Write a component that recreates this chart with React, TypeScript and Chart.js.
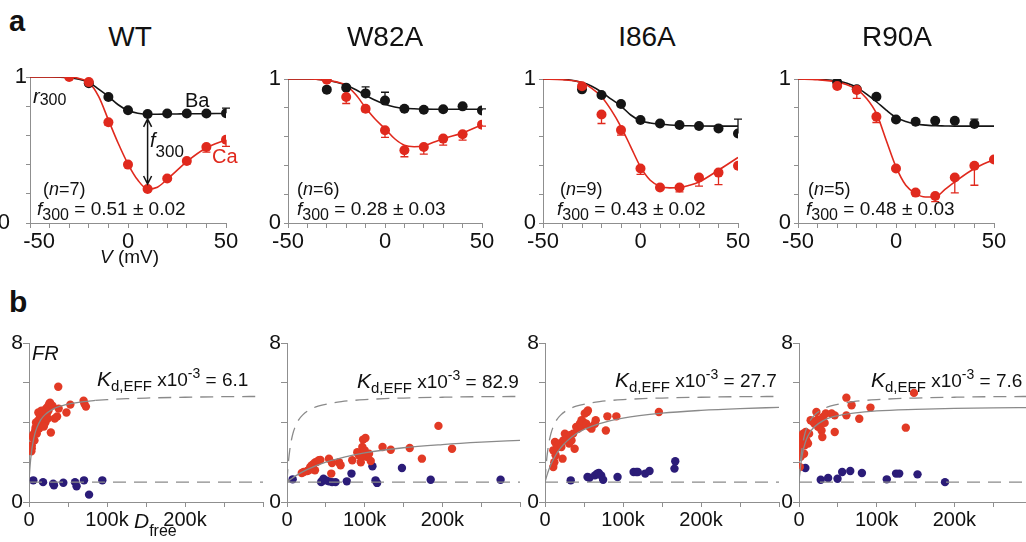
import React, { useEffect, useRef } from "react";
import { Chart, registerables } from "chart.js";

Chart.register(...registerables);

const FONT = '"Liberation Sans", Arial, Helvetica, sans-serif';
const RED = "#e0291d";
const RED_B = "#e23a25";
const BLACK = "#151515";
const NAVY = "#2b1c78";
const AXIS = "#8f8f8f";
const CURVE = "#8a8a8a";
const TEXT = "#111111";

// ---------------- panel a : r300 vs V ----------------
const voltages = [-30, -20, -10, 0, 10, 20, 30, 40, 50];
const fitVoltages = [-50, -40, -30, -25, -20, -15, -10, -5, 0, 5, 10, 15, 20, 25, 30, 40, 50];
const vTickLabels = [-50, 0, 50];
const rTickLabels = [0, 1];

const wtBa = [null, 0.957, 0.863, 0.772, 0.747, 0.75, 0.75, 0.75, 0.752];
const wtBaErr = [0, 0.012, 0.012, 0.01, 0.01, 0.01, 0.01, 0.012, 0.035];
const wtCa = [1.0, 0.965, 0.69, 0.4, 0.233, 0.305, 0.425, 0.52, 0.57];
const wtCaErr = [0, 0.02, 0.02, 0.012, 0.01, 0.012, 0.02, 0.035, 0.045];
const wtBaFit = [1.0, 1.0, 0.995, 0.985, 0.963, 0.917, 0.867, 0.81, 0.77, 0.752, 0.745, 0.745, 0.746, 0.747, 0.748, 0.749, 0.75];
const wtCaFit = [1.0, 1.0, 1.0, 0.99, 0.963, 0.867, 0.706, 0.546, 0.404, 0.294, 0.232, 0.245, 0.3, 0.36, 0.42, 0.515, 0.57];
const wtArrow = [10, 0.747, 0.233];

const w82aBa = [0.926, 0.94, 0.9, 0.85, 0.794, 0.787, 0.79, 0.81, 0.782];
const w82aBaErr = [0, 0.01, 0.045, 0.058, 0.01, 0.01, 0.01, 0.01, 0.01];
const w82aCa = [0.995, 0.875, 0.794, 0.644, 0.505, 0.528, 0.586, 0.616, 0.683];
const w82aCaErr = [0, 0.045, 0.02, 0.05, 0.045, 0.05, 0.045, 0.04, 0.01];
const w82aBaFit = [1.0, 1.0, 0.99, 0.978, 0.956, 0.925, 0.887, 0.852, 0.824, 0.806, 0.797, 0.793, 0.791, 0.79, 0.79, 0.79, 0.79];
const w82aCaFit = [1.0, 1.0, 0.99, 0.98, 0.956, 0.89, 0.8, 0.72, 0.655, 0.585, 0.54, 0.53, 0.535, 0.56, 0.586, 0.625, 0.683];

const i86aBa = [0.928, 0.889, 0.826, 0.715, 0.691, 0.68, 0.673, 0.657, 0.622];
const i86aBaErr = [0, 0, 0.01, 0, 0, 0, 0, 0, 0.1];
const i86aCa = [0.95, 0.754, 0.645, 0.378, 0.246, 0.246, 0.316, 0.35, 0.397];
const i86aCaErr = [0, 0.063, 0.035, 0.04, 0, 0.03, 0.06, 0.084, 0];
const i86aBaFit = [1.0, 0.998, 0.975, 0.95, 0.91, 0.86, 0.812, 0.75, 0.71, 0.695, 0.687, 0.681, 0.677, 0.675, 0.674, 0.673, 0.673];
const i86aCaFit = [1.0, 0.995, 0.974, 0.935, 0.877, 0.784, 0.668, 0.529, 0.39, 0.297, 0.255, 0.244, 0.246, 0.262, 0.285, 0.367, 0.455];

const r90aBa = [0.977, 0.928, 0.877, 0.719, 0.703, 0.71, 0.71, 0.687, null];
const r90aBaErr = [0, 0, 0, 0, 0, 0, 0, 0.035, 0];
const r90aCa = [0.951, 0.923, 0.738, 0.378, 0.211, 0.188, 0.316, 0.397, 0.441];
const r90aCaErr = [0, 0.058, 0.04, 0, 0, 0.04, 0.107, 0.135, 0];
const r90aBaFit = [1.0, 0.998, 0.985, 0.97, 0.942, 0.895, 0.842, 0.784, 0.733, 0.705, 0.687, 0.68, 0.675, 0.674, 0.673, 0.673, 0.673];
const r90aCaFit = [1.0, 0.995, 0.98, 0.96, 0.928, 0.865, 0.761, 0.575, 0.39, 0.262, 0.204, 0.181, 0.181, 0.233, 0.285, 0.378, 0.441];

const titles = ["WT", "W82A", "I86A", "R90A"];
const nLabels = ["7", "6", "9", "5"];
const f300Labels = ["0.51 ± 0.02", "0.28 ± 0.03", "0.43 ± 0.02", "0.48 ± 0.03"];

// ---------------- panel b : FR vs Dfree (k) ----------------
const dTickLabels = [0, 100, 200];
const frTickLabels = [0, 8];
const kdLabels = ["6.1", "82.9", "27.7", "7.6"];

const wtFitD = [0, 0.5, 1, 2, 3.5, 5, 7.5, 10, 15, 20, 30, 40, 55, 70, 85, 100, 125, 150, 200, 250, 300];
const wtFitFR = [1.0, 1.33, 1.62, 2.09, 2.6, 2.98, 3.43, 3.73, 4.13, 4.37, 4.66, 4.82, 4.96, 5.05, 5.11, 5.15, 5.2, 5.23, 5.27, 5.3, 5.31];
const w82aFitD = [0, 5, 10, 25, 50, 75, 100, 150, 200, 250, 300];
const w82aFitFR = [1.0, 1.15, 1.29, 1.62, 2.01, 2.27, 2.47, 2.73, 2.89, 3.01, 3.1];
const i86aFitD = [0, 2.5, 5, 10, 20, 40, 70, 100, 150, 200, 250, 300];
const i86aFitFR = [1.0, 1.34, 1.63, 2.09, 2.72, 3.43, 3.94, 4.22, 4.47, 4.61, 4.7, 4.76];
const r90aFitD = [0, 1, 2, 3.5, 5, 7.5, 10, 15, 20, 30, 40, 55, 70, 100, 150, 200, 250, 300];
const r90aFitFR = [1.0, 1.45, 1.8, 2.21, 2.53, 2.91, 3.19, 3.56, 3.79, 4.07, 4.24, 4.38, 4.47, 4.58, 4.66, 4.71, 4.74, 4.75];
const baselineD = [0, 300];
const baselineFR = [1, 1];

const wtCaScatter = [
  [3, 2.55], [3.5, 2.7], [3.5, 2.85], [5, 3.25], [5.5, 3.4], [7, 3.1], [8, 3.6], [8.5, 3.75], [9, 4.0], [10, 3.45],
  [11, 3.85], [12, 4.1], [12, 4.5], [13, 3.7], [14, 4.25], [15, 3.95], [15.5, 4.4], [17, 4.15], [18, 4.5], [19, 4.3],
  [20, 4.6], [21, 4.0], [22, 4.7], [23, 4.45], [24, 4.8], [25, 4.6], [26, 4.95], [27, 5.0], [28, 3.5], [30, 4.85],
  [33, 4.2], [36, 4.3], [37.5, 5.8], [38, 4.7], [48, 4.5], [53, 4.9], [70, 5.1], [71, 4.95], [73, 4.8], [19, 3.8],
  [16, 4.6], [24, 4.2],
];
const wtBaScatter = [
  [5.5, 1.09], [18, 1.0], [31, 0.92], [32, 0.84], [44, 0.97], [59, 1.0], [61, 0.79], [70.5, 1.09], [77, 0.37], [94, 1.09],
];
const w82aCaScatter = [
  [19, 1.46], [21.5, 1.51], [26, 1.56], [28, 1.6], [30, 1.76], [32, 1.85], [34.5, 1.93], [36.6, 2.0], [38.8, 2.02], [41, 2.1],
  [43, 2.12], [36, 1.6], [33, 1.68], [54, 2.18], [57, 1.43], [58, 1.96], [67, 2.0], [69, 1.85], [84, 2.1], [90.5, 2.5],
  [92.7, 2.35], [95, 2.0], [97, 2.77], [98, 3.14], [101, 3.22], [99, 2.52], [102.6, 2.27], [105.6, 2.43], [107.8, 2.06], [123, 2.77],
  [133.6, 2.63], [158, 2.72], [173.7, 2.18], [195, 3.83], [212.5, 2.68], [96, 2.3], [100, 2.6],
];
const w82aBaScatter = [
  [7.3, 1.14], [44, 1.0], [47, 1.17], [50, 1.09], [54, 1.04], [58, 1.0], [62.5, 1.0], [77, 1.04], [83, 1.43], [110, 1.8],
  [114, 1.09], [116, 0.96], [148, 1.71], [185, 1.12], [275, 1.12], [45, 1.05],
];
const i86aCaScatter = [
  [10.6, 1.76], [12, 2.0], [10.6, 2.6], [12.8, 3.02], [15, 2.85], [13.6, 2.35], [17, 2.77], [19, 2.94], [21, 2.77], [22.5, 2.18],
  [23.4, 3.1], [25.5, 3.44], [27.7, 3.27], [31, 2.94], [32, 3.36], [34, 3.1], [36, 3.44], [38, 2.68], [40, 3.78], [42.5, 3.69],
  [44.7, 3.94], [46.8, 4.11], [46.8, 3.81], [49, 4.03], [51, 4.45], [54, 4.53], [55, 4.61], [53, 3.94], [57, 3.78], [59.6, 3.69],
  [64, 3.94], [65, 4.11], [78, 3.6], [80, 4.31], [91.5, 4.31], [146, 4.53],
];
const i86aBaScatter = [
  [33, 1.09], [54.5, 1.26], [57, 1.22], [64, 1.34], [67, 1.43], [69, 1.46], [72, 1.34], [74.5, 1.12], [93, 1.26], [113.6, 1.51],
  [117, 1.51], [119, 1.51], [128.5, 1.43], [134, 1.56], [166, 1.68], [167, 2.05],
];
const r90aCaScatter = [
  [1, 1.76], [2, 2.27], [2, 2.52], [2, 2.77], [3, 3.02], [4.3, 3.27], [5.2, 3.44], [6.5, 2.43], [7.3, 2.85], [8.6, 3.52],
  [9.5, 3.1], [11.6, 2.94], [13, 3.44], [15, 4.11], [18, 4.03], [20, 3.94], [22.4, 4.53], [23.7, 4.14], [24.5, 3.78], [26.7, 4.11],
  [28, 3.94], [29, 3.6], [30, 3.27], [31, 4.28], [33, 3.98], [34.5, 4.45], [42, 4.45], [46, 4.36], [46, 3.52], [61, 5.25],
  [61, 4.36], [67.7, 4.87], [77.6, 4.19], [92, 4.75], [137.5, 3.74], [148, 5.49],
];
const r90aBaScatter = [
  [8.2, 1.71], [28, 1.12], [37.5, 1.21], [49.6, 1.17], [55.6, 1.51], [66, 1.56], [81, 1.46], [113, 1.14], [125, 1.43], [129, 1.43],
  [152.6, 1.39], [188, 1.0],
];

// ---------------- layout ----------------
const M = { l: 40, t: 12, r: 24, b: 36 };
const topBoxes = [
  { x0: 30, y0: 77, x1: 226, y1: 223 },
  { x0: 288, y0: 79, x1: 482, y1: 223 },
  { x0: 543, y0: 79, x1: 738, y1: 223 },
  { x0: 798, y0: 79, x1: 994, y1: 223 },
];
const botBoxes = [
  { x0: 29, y0: 343, x1: 263, y1: 502 },
  { x0: 287, y0: 343, x1: 520, y1: 502 },
  { x0: 545, y0: 343, x1: 779, y1: 502 },
  { x0: 799, y0: 343, x1: 1032, y1: 502 },
];

function makeErrorBarPlugin(series: any[]) {
  return {
    id: "errbars",
    beforeDatasetsDraw(chart: any) {
      const { ctx } = chart;
      const xs = chart.scales.x;
      const ys = chart.scales.y;
      series.forEach((s) => {
        ctx.save();
        ctx.strokeStyle = s.color;
        ctx.lineWidth = 1.3;
        s.xv.forEach((xv: number, i: number) => {
          const v = s.yv[i];
          const e = s.err[i];
          if (v === null || v === undefined || !e) return;
          const px = xs.getPixelForValue(xv);
          const p0 = ys.getPixelForValue(v);
          const p1 = ys.getPixelForValue(v + s.dir * e);
          ctx.beginPath();
          ctx.moveTo(px, p0);
          ctx.lineTo(px, p1);
          ctx.moveTo(px - 4, p1);
          ctx.lineTo(px + 4, p1);
          ctx.stroke();
        });
        ctx.restore();
      });
    },
  };
}

function makeArrowPlugin(arrow: number[] | null) {
  return {
    id: "arrow",
    afterDatasetsDraw(chart: any) {
      if (!arrow) return;
      const { ctx } = chart;
      const px = chart.scales.x.getPixelForValue(arrow[0]);
      const yT = chart.scales.y.getPixelForValue(arrow[1]) + 5;
      const yB = chart.scales.y.getPixelForValue(arrow[2]) - 5;
      ctx.save();
      ctx.strokeStyle = BLACK;
      ctx.lineWidth = 1.5;
      ctx.beginPath();
      ctx.moveTo(px, yT);
      ctx.lineTo(px, yB);
      ctx.moveTo(px - 4, yT + 8);
      ctx.lineTo(px, yT);
      ctx.lineTo(px + 4, yT + 8);
      ctx.moveTo(px - 4, yB - 8);
      ctx.lineTo(px, yB);
      ctx.lineTo(px + 4, yB - 8);
      ctx.stroke();
      ctx.restore();
    },
  };
}

function axisCommon(tickLength: number) {
  return {
    grid: { display: true, drawOnChartArea: false, drawTicks: true, tickLength, color: AXIS, tickColor: AXIS, lineWidth: 1 },
    border: { display: true, color: AXIS, width: 1 },
  };
}

function topConfig(idx: number, ba: any[], baErr: number[], ca: any[], caErr: number[], baFit: number[], caFit: number[], arrow: number[] | null) {
  const pts = (vals: any[]) => voltages.map((v, i) => ({ x: v, y: vals[i] })).filter((d) => d.y !== null);
  const fit = (vals: number[]) => fitVoltages.map((v, i) => ({ x: v, y: vals[i] }));
  const first = idx === 0;
  return {
    type: "scatter",
    data: {
      datasets: [
        { data: pts(ca), showLine: false, pointRadius: 5, pointBackgroundColor: RED, pointBorderWidth: 0, order: 0 },
        { data: pts(ba), showLine: false, pointRadius: 5, pointBackgroundColor: BLACK, pointBorderWidth: 0, order: 1 },
        { data: fit(caFit), showLine: true, pointRadius: 0, borderColor: RED, borderWidth: 1.6, cubicInterpolationMode: "monotone", order: 2 },
        { data: fit(baFit), showLine: true, pointRadius: 0, borderColor: BLACK, borderWidth: 1.6, cubicInterpolationMode: "monotone", order: 3 },
      ],
    },
    options: {
      animation: false,
      responsive: false,
      maintainAspectRatio: false,
      events: [],
      layout: { padding: { left: 0, top: M.t, right: M.r, bottom: 0 } },
      plugins: { legend: { display: false }, tooltip: { enabled: false } },
      scales: {
        x: {
          type: "linear",
          min: -50,
          max: 50,
          ...axisCommon(5),
          ticks: {
            stepSize: 10,
            autoSkip: false,
            maxRotation: 0,
            padding: 1,
            color: TEXT,
            font: { family: FONT, size: 22 },
            callback: (v: number) => (vTickLabels.includes(v) ? (first && v === -50 ? "   -50" : String(v)) : ""),
          },
          afterFit: (s: any) => { s.height = M.b; s.paddingLeft = 0; s.paddingRight = 0; },
        },
        y: {
          type: "linear",
          min: 0,
          max: 1,
          ...axisCommon(4),
          ticks: {
            stepSize: 0.2,
            autoSkip: false,
            padding: first ? -1 : 3,
            color: TEXT,
            font: { family: FONT, size: 22 },
            callback: (v: number) => (rTickLabels.includes(v) ? (first && v === 0 ? "0\u2002 " : String(v)) : ""),
          },
          afterFit: (s: any) => { s.width = M.l; s.paddingTop = 0; s.paddingBottom = 0; },
        },
      },
    },
    plugins: [
      makeErrorBarPlugin([
        { xv: voltages, yv: ba, err: baErr, dir: 1, color: BLACK },
        { xv: voltages, yv: ca, err: caErr, dir: -1, color: RED },
      ]),
      makeArrowPlugin(arrow),
    ],
  };
}

function botConfig(idx: number, caSc: number[][], baSc: number[][], fitD: number[] | null, fitFR: number[] | null) {
  const sc = (arr: number[][]) => arr.map((p) => ({ x: p[0], y: p[1] }));
  const line = (xs: number[], ys: number[]) => xs.map((x, i) => ({ x, y: ys[i] }));
  const wtLine = line(wtFitD, wtFitFR);
  const curve = { showLine: true, pointRadius: 0, borderColor: CURVE, borderWidth: 1.3, cubicInterpolationMode: "monotone" };
  const dash = [13, 8];
  const datasets: any[] = [];
  if (idx === 0) {
    datasets.push({ ...curve, data: wtLine.filter((p) => p.x <= 85), order: 0 });
    datasets.push({ ...curve, data: wtLine.filter((p) => p.x >= 85), borderDash: dash, order: 0 });
  } else {
    datasets.push({ ...curve, data: wtLine, borderDash: dash, order: 0 });
    datasets.push({ ...curve, data: line(fitD as number[], fitFR as number[]), order: 0 });
  }
  datasets.push({ ...curve, data: line(baselineD, baselineFR), borderDash: dash, cubicInterpolationMode: "default", order: 1 });
  datasets.push({ data: sc(caSc), showLine: false, pointRadius: 4.2, pointBackgroundColor: RED_B, pointBorderWidth: 0, order: 2 });
  datasets.push({ data: sc(baSc), showLine: false, pointRadius: 4.2, pointBackgroundColor: NAVY, pointBorderWidth: 0, order: 3 });
  return {
    type: "scatter",
    data: { datasets },
    options: {
      animation: false,
      responsive: false,
      maintainAspectRatio: false,
      events: [],
      layout: { padding: { left: 0, top: M.t, right: M.r, bottom: 0 } },
      plugins: { legend: { display: false }, tooltip: { enabled: false } },
      scales: {
        x: {
          type: "linear",
          min: 0,
          max: 300,
          ...axisCommon(5),
          ticks: {
            stepSize: 50,
            autoSkip: false,
            maxRotation: 0,
            padding: 1,
            color: TEXT,
            font: { family: FONT, size: 20 },
            callback: (v: number) => (dTickLabels.includes(v) ? (v === 0 ? "0" : `${v}k`) : ""),
          },
          afterFit: (s: any) => { s.height = M.b; s.paddingLeft = 0; s.paddingRight = 0; },
        },
        y: {
          type: "linear",
          min: 0,
          max: 8,
          ...axisCommon(6),
          ticks: {
            stepSize: 2,
            autoSkip: false,
            padding: 0,
            color: TEXT,
            font: { family: FONT, size: 21 },
            callback: (v: number) => (frTickLabels.includes(v) ? String(v) : ""),
          },
          afterFit: (s: any) => { s.width = M.l; s.paddingTop = 0; s.paddingBottom = 0; },
        },
      },
    },
  };
}

function ChartBox({ box, config }: { box: { x0: number; y0: number; x1: number; y1: number }; config: () => any }) {
  const ref = useRef<HTMLCanvasElement | null>(null);
  const w = box.x1 - box.x0 + M.l + M.r;
  const h = box.y1 - box.y0 + M.t + M.b;
  useEffect(() => {
    if (!ref.current) return;
    const chart = new Chart(ref.current, config());
    return () => chart.destroy();
  }, []);
  return (
    <canvas
      ref={ref}
      width={w}
      height={h}
      style={{ position: "absolute", left: box.x0 - M.l, top: box.y0 - M.t, width: w, height: h }}
    />
  );
}

function Label({ x, y, size, children, color = TEXT, center = false, bold = false, italic = false }: any) {
  return (
    <div
      style={{
        position: "absolute",
        left: x,
        top: y - 0.8465 * size,
        fontSize: size,
        lineHeight: `${size}px`,
        fontFamily: FONT,
        color,
        whiteSpace: "nowrap",
        fontWeight: bold ? 700 : 400,
        fontStyle: italic ? "italic" : "normal",
        transform: center ? "translateX(-50%)" : undefined,
      }}
    >
      {children}
    </div>
  );
}

function Shift({ size, dy, children, italic = false }: any) {
  return (
    <span style={{ fontSize: size, position: "relative", top: dy, lineHeight: 0, fontStyle: italic ? "italic" : "normal" }}>
      {children}
    </span>
  );
}

export default function App() {
  const topSets = [
    [wtBa, wtBaErr, wtCa, wtCaErr, wtBaFit, wtCaFit, wtArrow],
    [w82aBa, w82aBaErr, w82aCa, w82aCaErr, w82aBaFit, w82aCaFit, null],
    [i86aBa, i86aBaErr, i86aCa, i86aCaErr, i86aBaFit, i86aCaFit, null],
    [r90aBa, r90aBaErr, r90aCa, r90aCaErr, r90aBaFit, r90aCaFit, null],
  ];
  const botSets = [
    [wtCaScatter, wtBaScatter, null, null],
    [w82aCaScatter, w82aBaScatter, w82aFitD, w82aFitFR],
    [i86aCaScatter, i86aBaScatter, i86aFitD, i86aFitFR],
    [r90aCaScatter, r90aBaScatter, r90aFitD, r90aFitFR],
  ];
  const titleX = [130, 385, 647, 897];
  const nX = [43, 297, 560, 808];
  const fX = [37, 297, 557, 806];
  const kX = [97, 357, 615, 871];
  const kY = [386, 388, 387, 387];

  return (
    <div style={{ position: "absolute", left: 0, top: 0, width: 1026, height: 542, overflow: "hidden", background: "#fff" }}>
      {topBoxes.map((b, i) => (
        <ChartBox
          key={"t" + i}
          box={b}
          config={() => topConfig(i, topSets[i][0] as any, topSets[i][1] as any, topSets[i][2] as any, topSets[i][3] as any, topSets[i][4] as any, topSets[i][5] as any, topSets[i][6] as any)}
        />
      ))}
      {botBoxes.map((b, i) => (
        <ChartBox
          key={"b" + i}
          box={b}
          config={() => botConfig(i, botSets[i][0] as any, botSets[i][1] as any, botSets[i][2] as any, botSets[i][3] as any)}
        />
      ))}

      <Label x={9} y={32} size={29} bold>a</Label>
      <Label x={9} y={312} size={30} bold>b</Label>

      {titles.map((t, i) => (
        <Label key={"ti" + i} x={titleX[i]} y={47} size={28} center>{t}</Label>
      ))}

      {nLabels.map((n, i) => (
        <Label key={"n" + i} x={nX[i]} y={195} size={18}>(<i>n</i>={n})</Label>
      ))}
      {f300Labels.map((f, i) => (
        <Label key={"f" + i} x={fX[i]} y={215} size={19}>
          <i>f</i><Shift size={16} dy={5}>300</Shift> = {f}
        </Label>
      ))}

      <Label x={33} y={103} size={20}><i>r</i><Shift size={16} dy={2}>300</Shift></Label>
      <Label x={185} y={107} size={20}>Ba</Label>
      <Label x={212} y={163} size={20} color={RED}>Ca</Label>
      <Label x={150} y={147} size={20}><i>f</i><Shift size={17} dy={10}>300</Shift></Label>
      <Label x={100} y={263} size={19}><i>V</i> (mV)</Label>

      <Label x={32} y={360} size={20} italic>FR</Label>
      {kdLabels.map((k, i) => (
        <Label key={"k" + i} x={kX[i]} y={kY[i]} size={19}>
          <Shift size={21} dy={0} italic>K</Shift><Shift size={15} dy={5}>d,EFF</Shift> x10<Shift size={14} dy={-8}>-3</Shift> = {k}
        </Label>
      ))}
      <Label x={134} y={528} size={21}><i>D</i><Shift size={16} dy={8}>free</Shift></Label>
    </div>
  );
}
